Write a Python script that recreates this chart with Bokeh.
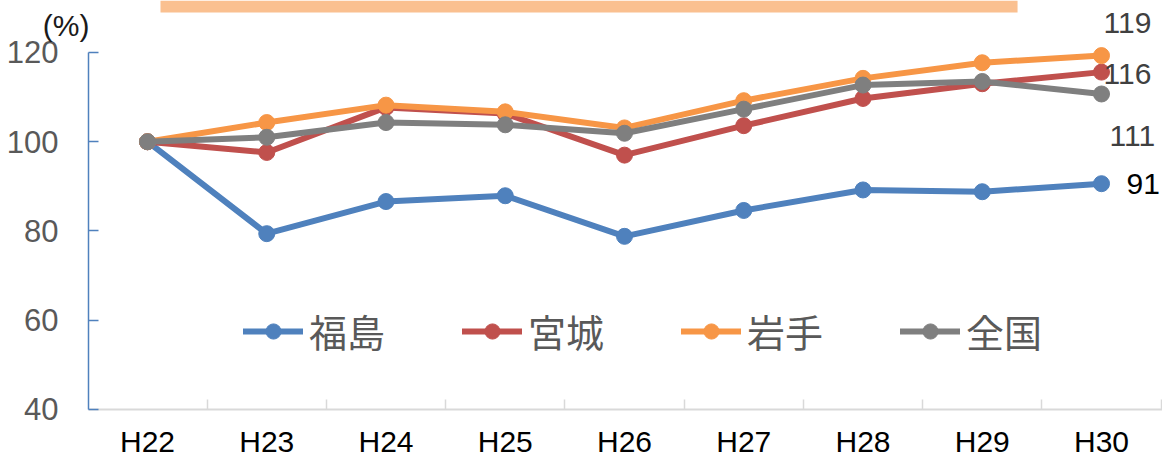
from bokeh.plotting import figure
from bokeh.models import (FixedTicker, Legend, LegendItem, LabelSet, LinearAxis,
                          Label, ColumnDataSource, BoxAnnotation)
from bokeh.core.properties import value
from bokeh.embed import file_html
from bokeh.resources import INLINE

# ---- data ----
years = ["H22", "H23", "H24", "H25", "H26", "H27", "H28", "H29", "H30"]
fukushima = [100, 79.4, 86.6, 87.9, 78.8, 84.6, 89.2, 88.8, 90.6]
miyagi = [100, 97.6, 107.7, 106.3, 97.0, 103.6, 109.7, 113.0, 115.6]
iwate = [100, 104.3, 108.2, 106.7, 103.1, 109.2, 114.2, 117.7, 119.3]
zenkoku = [100, 101.0, 104.3, 103.8, 101.9, 107.3, 112.7, 113.5, 110.7]
series_names = ["福島", "宮城", "岩手", "全国"]
y_ticks = [40, 60, 80, 100, 120]
unit_label = "(%)"

series = [fukushima, miyagi, iwate, zenkoku]
colors = ["#4f81bd", "#c0504d", "#f79646", "#7f7f7f"]
xs = list(range(len(years)))

CJK_FONT = "Noto Sans CJK JP"
# the frame fills the whole canvas; both axes are pinned inside it
X_START, X_END = -1.2327, 8.5115
Y_START, Y_END = 28.123, 131.65
Y_AXIS_AT = -0.4948          # x position of the value axis
X_AXIS_AT = min(y_ticks)     # y position of the category axis

p = figure(width=1162, height=462, output_backend="svg", toolbar_location=None,
           x_range=(X_START, X_END), y_range=(Y_START, Y_END),
           x_axis_location=None, y_axis_location=None,
           min_border_left=0, min_border_right=0, min_border_top=0,
           min_border_bottom=0)
p.outline_line_color = None
p.xgrid.visible = False
p.ygrid.visible = False
p.background_fill_color = "white"
p.border_fill_color = "white"

# banner strip at top (cut-off title box)
p.add_layout(BoxAnnotation(left=0.109, right=7.296, bottom=128.96,
                           fill_color="#fac090", fill_alpha=1.0,
                           line_color=None, level="underlay"))

# x axis
xa = LinearAxis(fixed_location=X_AXIS_AT,
                ticker=FixedTicker(ticks=xs, minor_ticks=[i + 0.5 for i in xs]),
                bounds=(Y_AXIS_AT, X_END))
xa.major_label_overrides = {i: y for i, y in zip(xs, years)}
xa.axis_line_color = "#d9d9d9"
xa.axis_line_width = 2
xa.major_tick_line_color = None
xa.minor_tick_line_color = "#d9d9d9"
xa.minor_tick_line_width = 1.5
xa.minor_tick_in = 10
xa.minor_tick_out = 0
xa.major_label_text_font = "Liberation Sans"
xa.major_label_text_font_size = "30px"
xa.major_label_text_color = "#000000"
xa.major_label_standoff = 10
p.add_layout(xa, "below")

# y axis
ya = LinearAxis(fixed_location=Y_AXIS_AT, ticker=FixedTicker(ticks=y_ticks),
                bounds=(min(y_ticks), max(y_ticks)))
ya.axis_line_color = "#4f81bd"
ya.axis_line_width = 1.5
ya.major_tick_line_color = "#4f81bd"
ya.major_tick_line_width = 1.5
ya.major_tick_in = 10
ya.major_tick_out = 0
ya.minor_tick_line_color = None
ya.major_label_text_font = "Liberation Sans"
ya.major_label_text_font_size = "31px"
ya.major_label_text_color = "#595959"
ya.major_label_standoff = 30
p.add_layout(ya, "left")

items = []
for name, vals, col in zip(series_names, series, colors):
    src = ColumnDataSource(dict(x=xs, y=vals))
    ln = p.line("x", "y", source=src, line_width=6, line_color=col,
                line_join="round", line_cap="round")
    sc = p.scatter("x", "y", source=src, size=16, fill_color=col,
                   line_color=col)
    items.append(LegendItem(label=name, renderers=[ln, sc]))

legend = Legend(items=items, orientation="horizontal", location=(243, 104),
                glyph_width=60, glyph_height=38, label_height=38,
                label_text_font_size="38px", label_text_font=CJK_FONT,
                label_text_color="#595959", spacing=77, padding=0, margin=0,
                label_standoff=6, border_line_color=None,
                background_fill_alpha=0)
p.add_layout(legend)

# end-of-line value labels
last_vals = [s[-1] for s in series]
lab_src = ColumnDataSource(dict(
    x=[xs[-1]] * len(series),
    y=last_vals,
    text=[f"{v:.0f}" for v in last_vals],
    dx=[25, 2, 2, 8],
    dy=[0, -2, 32.5, -42],
    col=["#000000", "#404040", "#404040", "#404040"],
))
p.add_layout(LabelSet(x="x", y="y", text="text", source=lab_src,
                      x_offset="dx", y_offset="dy", text_color="col",
                      text_font=value("Liberation Sans"), text_font_size="30px",
                      text_align="left", text_baseline="middle"))

# "(%)" unit label above the value axis
p.add_layout(Label(x=Y_AXIS_AT, y=126, x_offset=1, text=unit_label,
                   text_font="Liberation Sans", text_font_size="30px",
                   text_color="#1a1a1a", text_baseline="middle",
                   text_align="right"))

open("out.html", "w").write(file_html(p, INLINE))
